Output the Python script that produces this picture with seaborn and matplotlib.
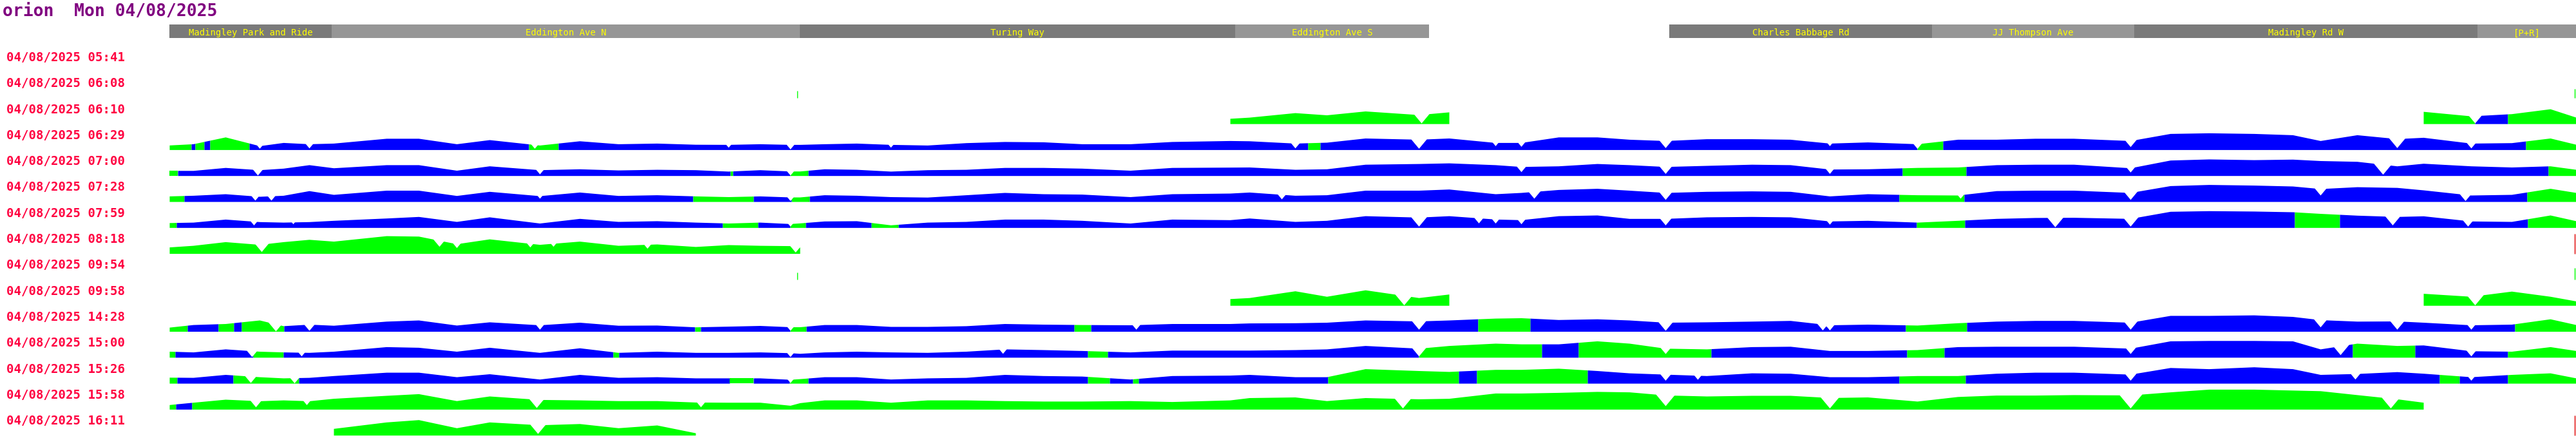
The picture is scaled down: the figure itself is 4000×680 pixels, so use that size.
import numpy as np
import matplotlib
matplotlib.use("Agg")
import matplotlib.pyplot as plt
import seaborn as sns

N = np.nan

TITLE = "orion  Mon 04/08/2025"
DATE = "04/08/2025"
TRIP_TIMES = ["05:41", "06:08", "06:10", "06:29", "07:00", "07:28", "07:59", "08:18",
              "09:54", "09:58", "14:28", "15:00", "15:26", "15:58", "16:11"]

# stops along the route (route position in px)
STOP_NAMES = ["Madingley Park and Ride", "Eddington Ave N", "Turing Way", "Eddington Ave S",
              "Charles Babbage Rd", "JJ Thompson Ave", "Madingley Rd W", "[P+R]"]
STOP_START = [263, 515, 1242, 1918, 2592, 3000, 3314, 3847]
STOP_END = [515, 1242, 1918, 2219, 3000, 3314, 3847, 4000]

# route positions where each trip's profile is sampled
ROUTE_X = [263, 300, 350, 403, 440, 480, 518, 600, 650, 709, 760,
           838, 900, 960, 1020, 1080, 1131, 1180, 1227, 1242, 1280, 1330,
           1383, 1440, 1500, 1560, 1620, 1680, 1755, 1820, 1910, 1940, 2011,
           2060, 2120, 2203, 2250, 2322, 2362, 2420, 2480, 2530, 2586, 2650,
           2720, 2780, 2841, 2900, 2977, 3040, 3100, 3160, 3220, 3308, 3370,
           3430, 3500, 3560, 3603, 3660, 3722, 3763, 3837, 3900, 3960, 4000]

# profile heights per trip (NaN = no data)
H_0610 = [N] * 30 + [8.2, 10, 17, 13.6, 19.6, 14, 18.2] + [N] * 24 + [19, 12, 15.4, 23, 10]
H_0629 = [7.1, 9, 19.6, 6, 11, 9, 10, 17.5, 17.5, 9, 15.4,
          7, 13.6, 9, 10, 8.2, 8, 9, 8, 8, 9, 10,
          8, 7, 10.7, 12.5, 12, 9, 9, 12.5, 14, 13.6, 10,
          11.4, 17.9, 16, 17.9, 11, 11, 19.6, 19.6, 16, 14, 16.8,
          16.8, 16, 10, 11.8, 9, 16, 16, 17.5, 17.5, 14, 25,
          26, 25, 23, 14, 23, 17, 19, 10, 10.7, 17.9, 8.2]
H_0700 = [7.9, 7.9, 12.5, 9, 11.4, 16.8, 12, 16.8, 16.8, 8.2, 15,
          9, 10.4, 8.6, 9.6, 9, 6.8, 9, 7, 7, 10.4, 9.6,
          6.8, 9, 9.6, 12.5, 12.5, 11.4, 8.2, 12.5, 13, 13.2, 9.6,
          10.4, 17.5, 18.6, 19.6, 16.8, 14, 15, 18.6, 16.8, 14, 15.7,
          17.5, 16.8, 10, 10.4, 12.5, 13.2, 16.8, 17.5, 17.5, 12, 24,
          25.7, 24.6, 25.4, 23.2, 22, 15, 19, 15, 13.2, 15, 9.6]
H_0728 = [8.6, 9.6, 12, 8, 9.6, 16.8, 11, 17.5, 17.5, 9.3, 15.7,
          9, 14.6, 9.3, 10.4, 8.6, 7.5, 8.6, 7, 7, 10.4, 9.6,
          7.5, 6.8, 10.4, 14, 12, 11.4, 7.5, 12, 13, 14.6, 9.6,
          10.4, 17.5, 17.5, 19.3, 12, 14, 18.6, 20.4, 17.5, 14, 15.7,
          16.4, 15.7, 8.6, 12, 10.4, 10, 16.8, 17.5, 17.5, 14, 24.6,
          26.4, 25.4, 24, 20, 22.9, 21.8, 18, 10, 11, 20.4, 14]
H_0759 = [7.5, 8.2, 12.9, 9, 8.2, 9, 11, 14.6, 17, 9.3, 16.4,
          6.8, 14, 9.3, 10.4, 8.2, 6.8, 8.2, 6, 7, 10, 10.4,
          4, 8.2, 9.3, 12.9, 12.9, 11, 6.8, 12.9, 12, 14.6, 9.3,
          11, 18.2, 16, 18.2, 13, 12, 18.2, 19.3, 14, 14, 16.4,
          17, 16.4, 10, 11, 8.2, 11, 14, 15.4, 15.7, 14, 25,
          26, 25.4, 24.3, 21.8, 19, 17, 18, 10, 9.3, 19.3, 10.4]
H_0818 = [10, 12.5, 18.2, 14, 18.2, 21.8, 19, 27.5, 26.8, 15, 22.5,
          14, 19, 12.5, 14.6, 10.7, 13.6, 12.5, 12, 10] + [N] * 46
H_0958 = [N] * 30 + [10.4, 12, 22.5, 14, 24, 12, 17.5] + [N] * 24 + [18.6, 14, 22, 14, 6.8]
H_1428 = [6.4, 10.4, 12, 17.5, 8.6, 11, 9.3, 15.7, 17.5, 9.6, 14.6,
          10, 14, 9.3, 9.6, 6.8, 7.9, 9, 7, 7, 10.4, 10.4,
          7.5, 7.5, 8.6, 12, 11, 10.4, 10, 12, 12, 12.9, 13.2,
          14, 17.5, 16, 17.5, 20.4, 21, 18.2, 19.3, 17.5, 14, 14.6,
          15.7, 16.8, 10, 11, 9.6, 13.2, 15.7, 16.8, 16.8, 14, 24.6,
          24.6, 25.4, 23, 18, 15.7, 16, 14, 10, 11, 19.3, 10.4]
H_1500 = [9.3, 8.2, 12.9, 9.3, 8.2, 7.5, 9.3, 16.4, 15.4, 9.3, 15.4,
          7.5, 14.6, 7.5, 9.3, 7.5, 7.5, 8.2, 7, 6, 8.2, 9.3,
          8.2, 7.5, 9.3, 12.9, 11.8, 10.4, 8.2, 11, 11, 11, 11.8,
          12.9, 18.2, 14, 18.2, 21.8, 20.7, 20.7, 25.4, 21.8, 14, 12.9,
          16.4, 17, 10.4, 10.4, 11.8, 16.4, 17, 17, 17, 14, 25.4,
          26, 26, 25.4, 12.9, 21.8, 18.2, 19, 10, 9.3, 16.4, 10.4]
H_1526 = [9.3, 9, 13.6, 10, 8.2, 9, 11.8, 17, 17, 10, 14.6,
          6.4, 13.6, 9, 10, 8.2, 8.2, 8.2, 6, 7, 10, 10,
          6.4, 8.2, 9, 13.6, 11.8, 11, 6.4, 11.8, 12.5, 13.6, 10,
          10, 22.5, 19.6, 18.2, 21.4, 21.4, 23.2, 19.6, 16, 14, 11.8,
          16, 15.4, 10, 10, 11.8, 11.8, 15.4, 17, 17, 14, 24.3,
          22.5, 25.4, 22.5, 13.6, 15, 17.9, 15.4, 10, 13.6, 16, 8.2]
H_1558 = [7.1, 10.7, 15.4, 13, 14.3, 13, 16.8, 21.4, 24, 13.2, 20.4,
          15, 14.3, 13.2, 13.2, 11, 10.7, 10.7, 6, 10, 14.3, 14.3,
          10.7, 14.3, 14.3, 13.2, 12.5, 12.5, 13.2, 11.8, 14.3, 17.9, 18.9,
          13.2, 17.9, 16, 16.8, 25, 25, 26, 27.5, 26.8, 22, 20.4,
          21.4, 21.4, 18, 18.9, 12.5, 19.6, 21.8, 21.8, 22.5, 22, 26.8,
          31, 31, 29.6, 28.6, 22.5, 16, 10.7] + [N] * 4
H_1611 = [N] * 6 + [10.4, 20.4, 24, 11.4, 20.4, 16, 17.9, 11.4, 15.7, 3.6] + [N] * 50

# sharp dips (route position, lowest height) per trip
D_0610 = [(2207, 1), (3843, 1)]
D_0629 = [(403, 2), (480, 2.5), (830, 2), (1131, 3.6), (1227, 1), (1383, 3.6), (2011, 2.5),
          (2203, 2), (2322, 6), (2362, 5), (2586, 3), (2841, 6), (2977, 1.8), (3308, 4.6),
          (3722, 3), (3837, 2.5)]
D_0700 = [(400, 0.7), (838, 2.5), (1227, 0.7), (2362, 6), (2586, 3.2), (2841, 3.2),
          (3308, 5.4), (3700, 2)]
D_0728 = [(396, 2), (421, 2), (838, 5), (1227, 1.4), (1990, 4), (2382, 5), (2586, 3.2),
          (3044, 5), (3308, 3.2), (3603, 10), (3828, 1.4)]
D_0759 = [(394, 3.9), (455, 5.7), (1227, 2), (2203, 2), (2296, 7), (2322, 6.8), (2362, 5.7),
          (2586, 3.9), (2841, 5), (3191, 1), (3308, 2), (3715, 3.9), (3832, 2)]
D_0818 = [(406, 2.9), (682, 11), (709, 9), (823, 10), (859, 11), (1005, 8), (1235, 2)]
D_0958 = [(2180, 0.7), (3843, 0.7)]
D_1428 = [(428, 0.5), (480, 1.4), (838, 3.2), (1227, 1.4), (1764, 3.2), (2203, 3.2),
          (2586, 1.4), (2830, 2), (2841, 2), (3308, 3.2), (3603, 6.8), (3722, 3.2), (3837, 3.2)]
D_1500 = [(391, 1), (468, 2), (1227, 1), (1557, 6), (2203, 2), (2586, 5.7), (3308, 5.7),
          (3634, 4), (3837, 2)]
D_1526 = [(389, 1), (457, 0.5), (1227, 1), (2586, 4.6), (2636, 6), (3308, 4.6), (3657, 6.4),
          (3837, 4.6)]
D_1558 = [(397, 3.6), (476, 7), (833, 2.5), (1088, 3.6), (2178, 1.8), (2586, 5.4),
          (2841, 1.8), (3308, 1.8), (3712, 1.8)]
D_1611 = [(835, 2.5)]

# stretches flagged green (rest of each profile is blue)
G_0610 = [(1909, 2251), (3763, 3843), (3894, 4000)]
G_0629 = [(263, 297), (303, 317), (326, 387), (821, 867), (2031, 2050), (2977, 3017), (3922, 4000)]
G_0700 = [(263, 276), (1134, 1138), (1227, 1255), (2954, 3053), (3957, 4000)]
G_0728 = [(263, 286), (1076, 1170), (1229, 1257), (2949, 3050), (3924, 4000)]
G_0759 = [(263, 274), (1122, 1177), (1227, 1251), (1353, 1395), (2976, 3051), (3563, 3633), (3925, 4000)]
G_0818 = [(263, 1242)]
G_0958 = [(1909, 2251), (3763, 4000)]
G_1428 = [(263, 291), (339, 363), (375, 441), (1079, 1088), (1227, 1252), (1668, 1694),
          (2295, 2376), (2959, 3054), (3905, 4000)]
G_1500 = [(263, 272), (393, 440), (952, 961), (1689, 1720), (2203, 2394), (2451, 2657),
          (2961, 3019), (3653, 3750), (3894, 4000)]
G_1526 = [(263, 275), (362, 464), (1133, 1170), (1226, 1255), (1689, 1723), (1759, 1768),
          (2062, 2265), (2293, 2465), (2949, 3052), (3788, 3819), (3894, 4000)]
G_1558 = [(263, 273), (298, 3763)]
G_1611 = [(518, 1084)]

# small start/end ticks
TICK_TRIP = ["06:08", "06:08", "08:18", "09:54", "09:54", "16:11"]
TICK_X = [1238, 3998, 3998, 1238, 3998, 3998]
TICK_H = [11, 14, 31, 11, 18, 31]
TICK_KIND = ["start", "start", "end", "start", "start", "end"]

PROFILES = {"06:10": (H_0610, G_0610, D_0610), "06:29": (H_0629, G_0629, D_0629),
            "07:00": (H_0700, G_0700, D_0700), "07:28": (H_0728, G_0728, D_0728),
            "07:59": (H_0759, G_0759, D_0759), "08:18": (H_0818, G_0818, D_0818),
            "09:58": (H_0958, G_0958, D_0958), "14:28": (H_1428, G_1428, D_1428),
            "15:00": (H_1500, G_1500, D_1500), "15:26": (H_1526, G_1526, D_1526),
            "15:58": (H_1558, G_1558, D_1558), "16:11": (H_1611, G_1611, D_1611)}

GREEN = "#00ff00"
BLUE = "#0000ff"
LABEL_RED = "#ff0040"

sns.set_theme(style="white")
plt.rcParams["font.family"] = ["DejaVu Sans Mono", "DejaVu Sans"]

fig = plt.figure(figsize=(40, 6.8), dpi=100)
ax = fig.add_axes([0, 0, 1, 1])
ax.set_xlim(0, 4000)
ax.set_ylim(680, 0)
ax.axis("off")

# title
ax.text(4, 25, TITLE, color="#800080", fontsize=19, fontweight="bold", va="baseline", ha="left")

# stop header
for i, (name, a, b) in enumerate(zip(STOP_NAMES, STOP_START, STOP_END)):
    ax.barh(48.5, b - a, left=a, height=21, color="#7a7a7a" if i % 2 == 0 else "#969696",
            linewidth=0)
    ax.text((a + b) / 2, 55.5, name, color="#ffff00", fontsize=10, ha="center", va="baseline")


def split_segments(lo, hi, greens):
    """Return (start, end, colour) pieces covering [lo, hi]."""
    pieces = []
    cur = lo
    for ga, gb in sorted(greens):
        ga, gb = max(ga, lo), min(gb, hi)
        if gb <= ga:
            continue
        if ga > cur:
            pieces.append((cur, ga, BLUE))
        pieces.append((ga, gb, GREEN))
        cur = gb
    if cur < hi:
        pieces.append((cur, hi, BLUE))
    return pieces


xs_all = np.array(ROUTE_X, dtype=float)
row_y = {t: 87.5 + 40.3 * i for i, t in enumerate(TRIP_TIMES)}

for t in TRIP_TIMES:
    y = row_y[t]
    ax.text(10, y + 7.5, f"{DATE} {t}", color=LABEL_RED, fontsize=13.7, fontweight="bold",
            ha="left", va="baseline")
    if t not in PROFILES:
        continue
    heights, greens, dips = PROFILES[t]
    h = np.array(heights, dtype=float)
    base = y + 24
    idx = np.flatnonzero(~np.isnan(h))
    runs = np.split(idx, np.where(np.diff(idx) > 1)[0] + 1)
    for run in runs:
        rx, rh = xs_all[run], h[run]
        dense = np.arange(rx[0], rx[-1] + 0.5, 1.0)
        prof = np.interp(dense, rx, rh)
        # carve the narrow V notches
        for d, low in dips:
            if rx[0] <= d <= rx[-1]:
                prof = np.minimum(prof, low + 1.2 * np.abs(dense - d))
        for a, b, col in split_segments(rx[0], rx[-1], greens):
            m = (dense >= a - 0.5) & (dense <= b + 0.5)
            ax.fill_between(dense[m], base - prof[m], base, color=col, linewidth=0,
                            antialiased=False)

for t, x, hh, kind in zip(TICK_TRIP, TICK_X, TICK_H, TICK_KIND):
    base = row_y[t] + 24
    ax.vlines(x, base - hh, base, color=GREEN if kind == "start" else "#e00000", linewidth=1)

fig.savefig("out.png", dpi=100, facecolor="white")
